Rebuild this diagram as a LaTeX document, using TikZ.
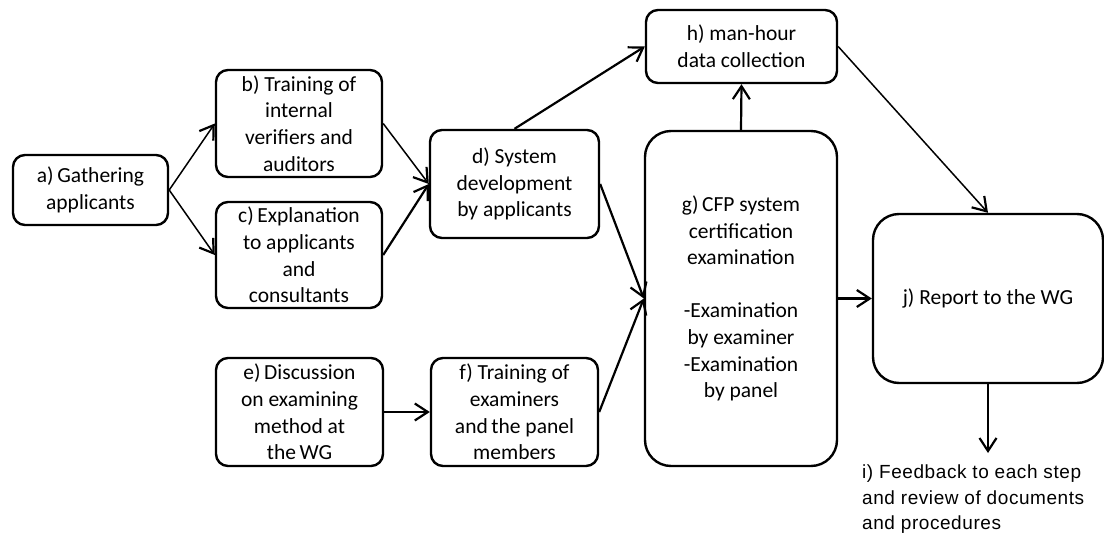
\documentclass[tikz,border=0pt]{standalone}
\usepackage{fontspec}
\setmainfont{Carlito}
\newfontfamily\notefont[LetterSpace=3]{Liberation Sans}
\usetikzlibrary{arrows.meta}
\begin{document}
\begin{tikzpicture}[x=1pt,y=-1pt,
  box/.style={draw, line width=2.4pt, rounded corners=12pt, align=center,
    inner sep=0pt, font=\fontsize{21.5}{26.6}\selectfont},
  bigbox/.style={box, rounded corners=26pt},
  link/.style={line width=2.2pt, -{Straight Barb[length=13pt,width=17pt,line width=2.2pt]}},
  thinlink/.style={link, line width=1.5pt}]
\useasboundingbox (0,0) rectangle (1104,533);

\node[box, minimum width=155pt, minimum height=70pt] (a) at (90.5,190) {a)\,Gathering\\applicants};
\node[box, minimum width=166pt, minimum height=107pt] (b) at (299,123.5) {b) Training of\\internal\\verifiers and\\auditors};
\node[box, minimum width=166pt, minimum height=106pt] (c) at (299,255) {c)\,Explanation\\to applicants\\and\\consultants};
\node[box, minimum width=169pt, minimum height=108pt] (d) at (514.5,184) {d) System\\development\\by applicants};
\node[box, minimum width=167pt, minimum height=108pt] (e) at (299.5,412) {e)\,Discussion\\on examining\\method at\\the\,WG};
\node[box, minimum width=167pt, minimum height=108pt] (f) at (514.5,412) {f) Training of\\examiners\\and\,the panel\\members};
\node[bigbox, minimum width=192pt, minimum height=335pt] (g) at (741,298.5) {g)\,CFP system\\certification\\examination\\[26.6pt]-Examination\\by examiner\\-Examination\\by panel};
\node[box, minimum width=191pt, minimum height=73pt] (h) at (741.5,46.5) {h) man-hour\\data collection};
\node[bigbox, minimum width=230pt, minimum height=169pt] (j) at (988,298.5) {j) Report to the WG};
\node[anchor=north west, inner sep=0pt, align=left,
  font=\notefont\fontsize{19}{25.5}\selectfont] (i) at (862,465)
  {i) Feedback to each step\\and review of documents\\and procedures};

\draw[thinlink] (a.east) -- (b.west);
\draw[thinlink] (a.east) -- (c.west);
\draw[thinlink] (b.east) -- (d.west);
\draw[link] (c.east) -- (d.west);
\draw[link] (d.north) -- (h.west);
\draw[link] (d.east) -- (g.west);
\draw[link] (f.east) -- (g.west);
\draw[link] (e.east) -- (f.west);
\draw[link] (g.north) -- (h.south);
\draw[link] (g.east) -- (j.west);
\draw[thinlink] (h.east) -- (j.north);
\draw[link, shorten >=12pt] (j.south) -- (j.south |- i.north);
\end{tikzpicture}
\end{document}
